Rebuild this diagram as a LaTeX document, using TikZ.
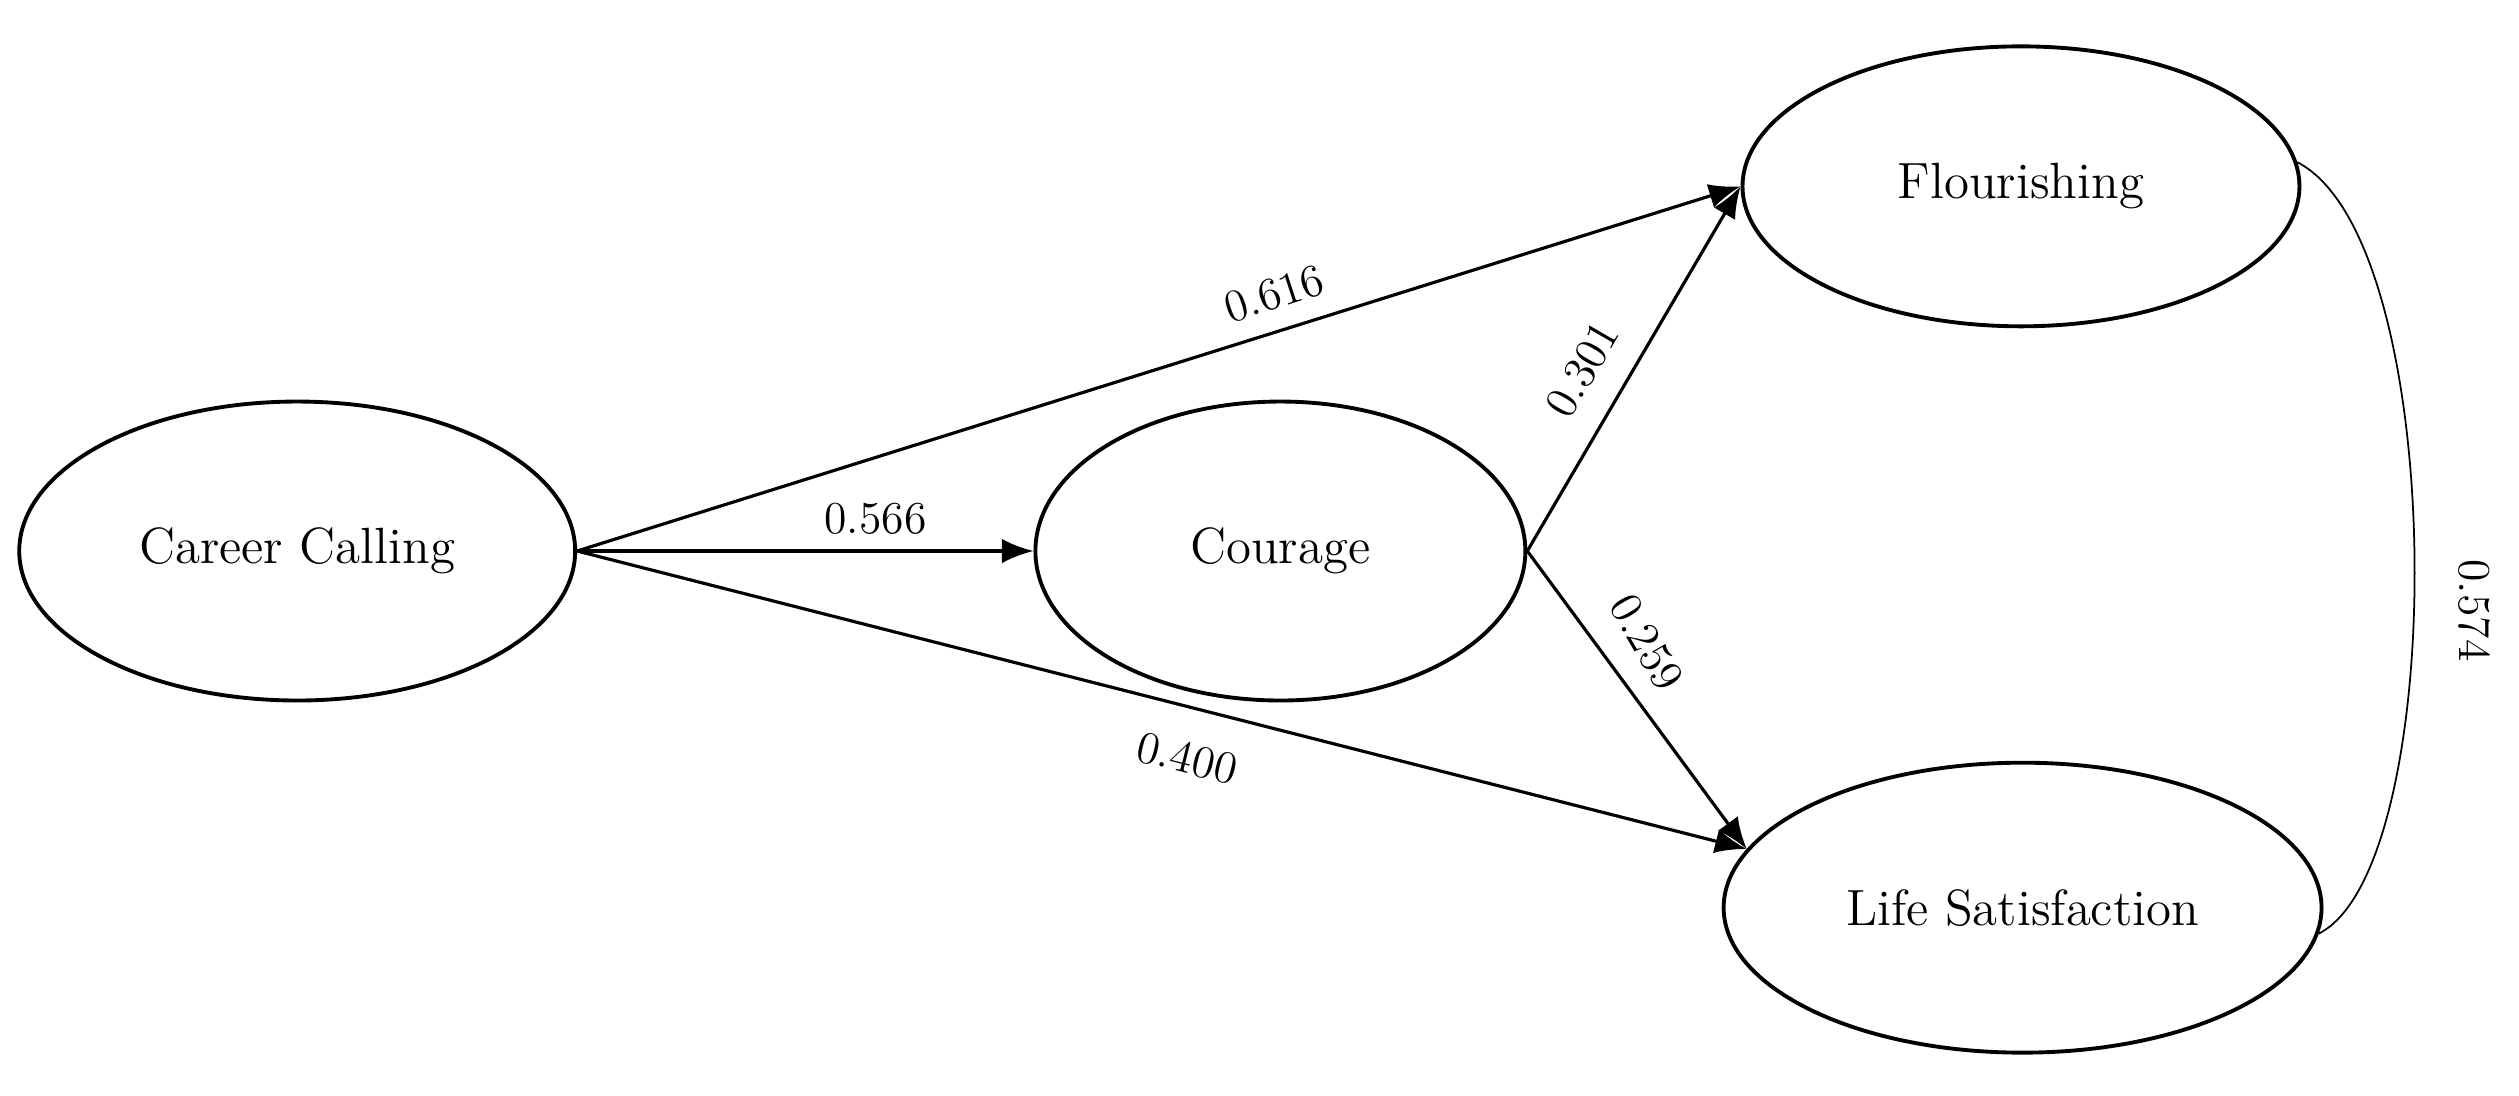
\documentclass[tikz,border=0pt]{standalone}
\usetikzlibrary{shapes.geometric,arrows.meta}
\begin{document}
\begin{tikzpicture}[x=0.016066cm,y=-0.016066cm,
  lv/.style={ellipse,draw,line width=1.1pt,inner sep=0pt,font=\fontsize{14.5}{17}\selectfont},
  pa/.style={-{Latex[length=9pt,width=7pt]},line width=0.9pt},
  lab/.style={font=\fontsize{13}{15}\selectfont,inner sep=1pt}]
\useasboundingbox (0,0) rectangle (1568,682);
\node[lv,minimum width=5.56cm,minimum height=2.99cm] (cc) at (185,343) {Career Calling};
\node[lv,minimum width=4.9cm,minimum height=2.99cm] (co) at (797,343) {Courage};
\node[lv,minimum width=5.57cm,minimum height=2.8cm] (fl) at (1258,116) {Flourishing};
\node[lv,minimum width=5.98cm,minimum height=2.9cm] (ls) at (1259,565) {Life Satisfaction};
\draw[pa] (cc.east) -- (co.west);
\draw[pa] (cc.east) -- (fl.west);
\draw[pa] (cc.east) -- (ls.168);
\draw[pa] (co.east) -- (fl.west);
\draw[pa] (co.east) -- (ls.168);
\draw[line width=0.5pt] (fl.5) .. controls (1525,150) and (1525,540) .. (ls.355);
\node[lab] (l1) at (545,323) {0.566};
\node[lab,rotate=18] (l2) at (793,183) {0.616};
\node[lab,rotate=-14] (l3) at (739,472) {0.400};
\node[lab,rotate=60] (l4) at (985,230) {0.301};
\node[lab,rotate=-60] (l5) at (1025,400) {0.259};
\node[lab,rotate=-90] (l6) at (1540,380) {0.574};
\end{tikzpicture}
\end{document}
